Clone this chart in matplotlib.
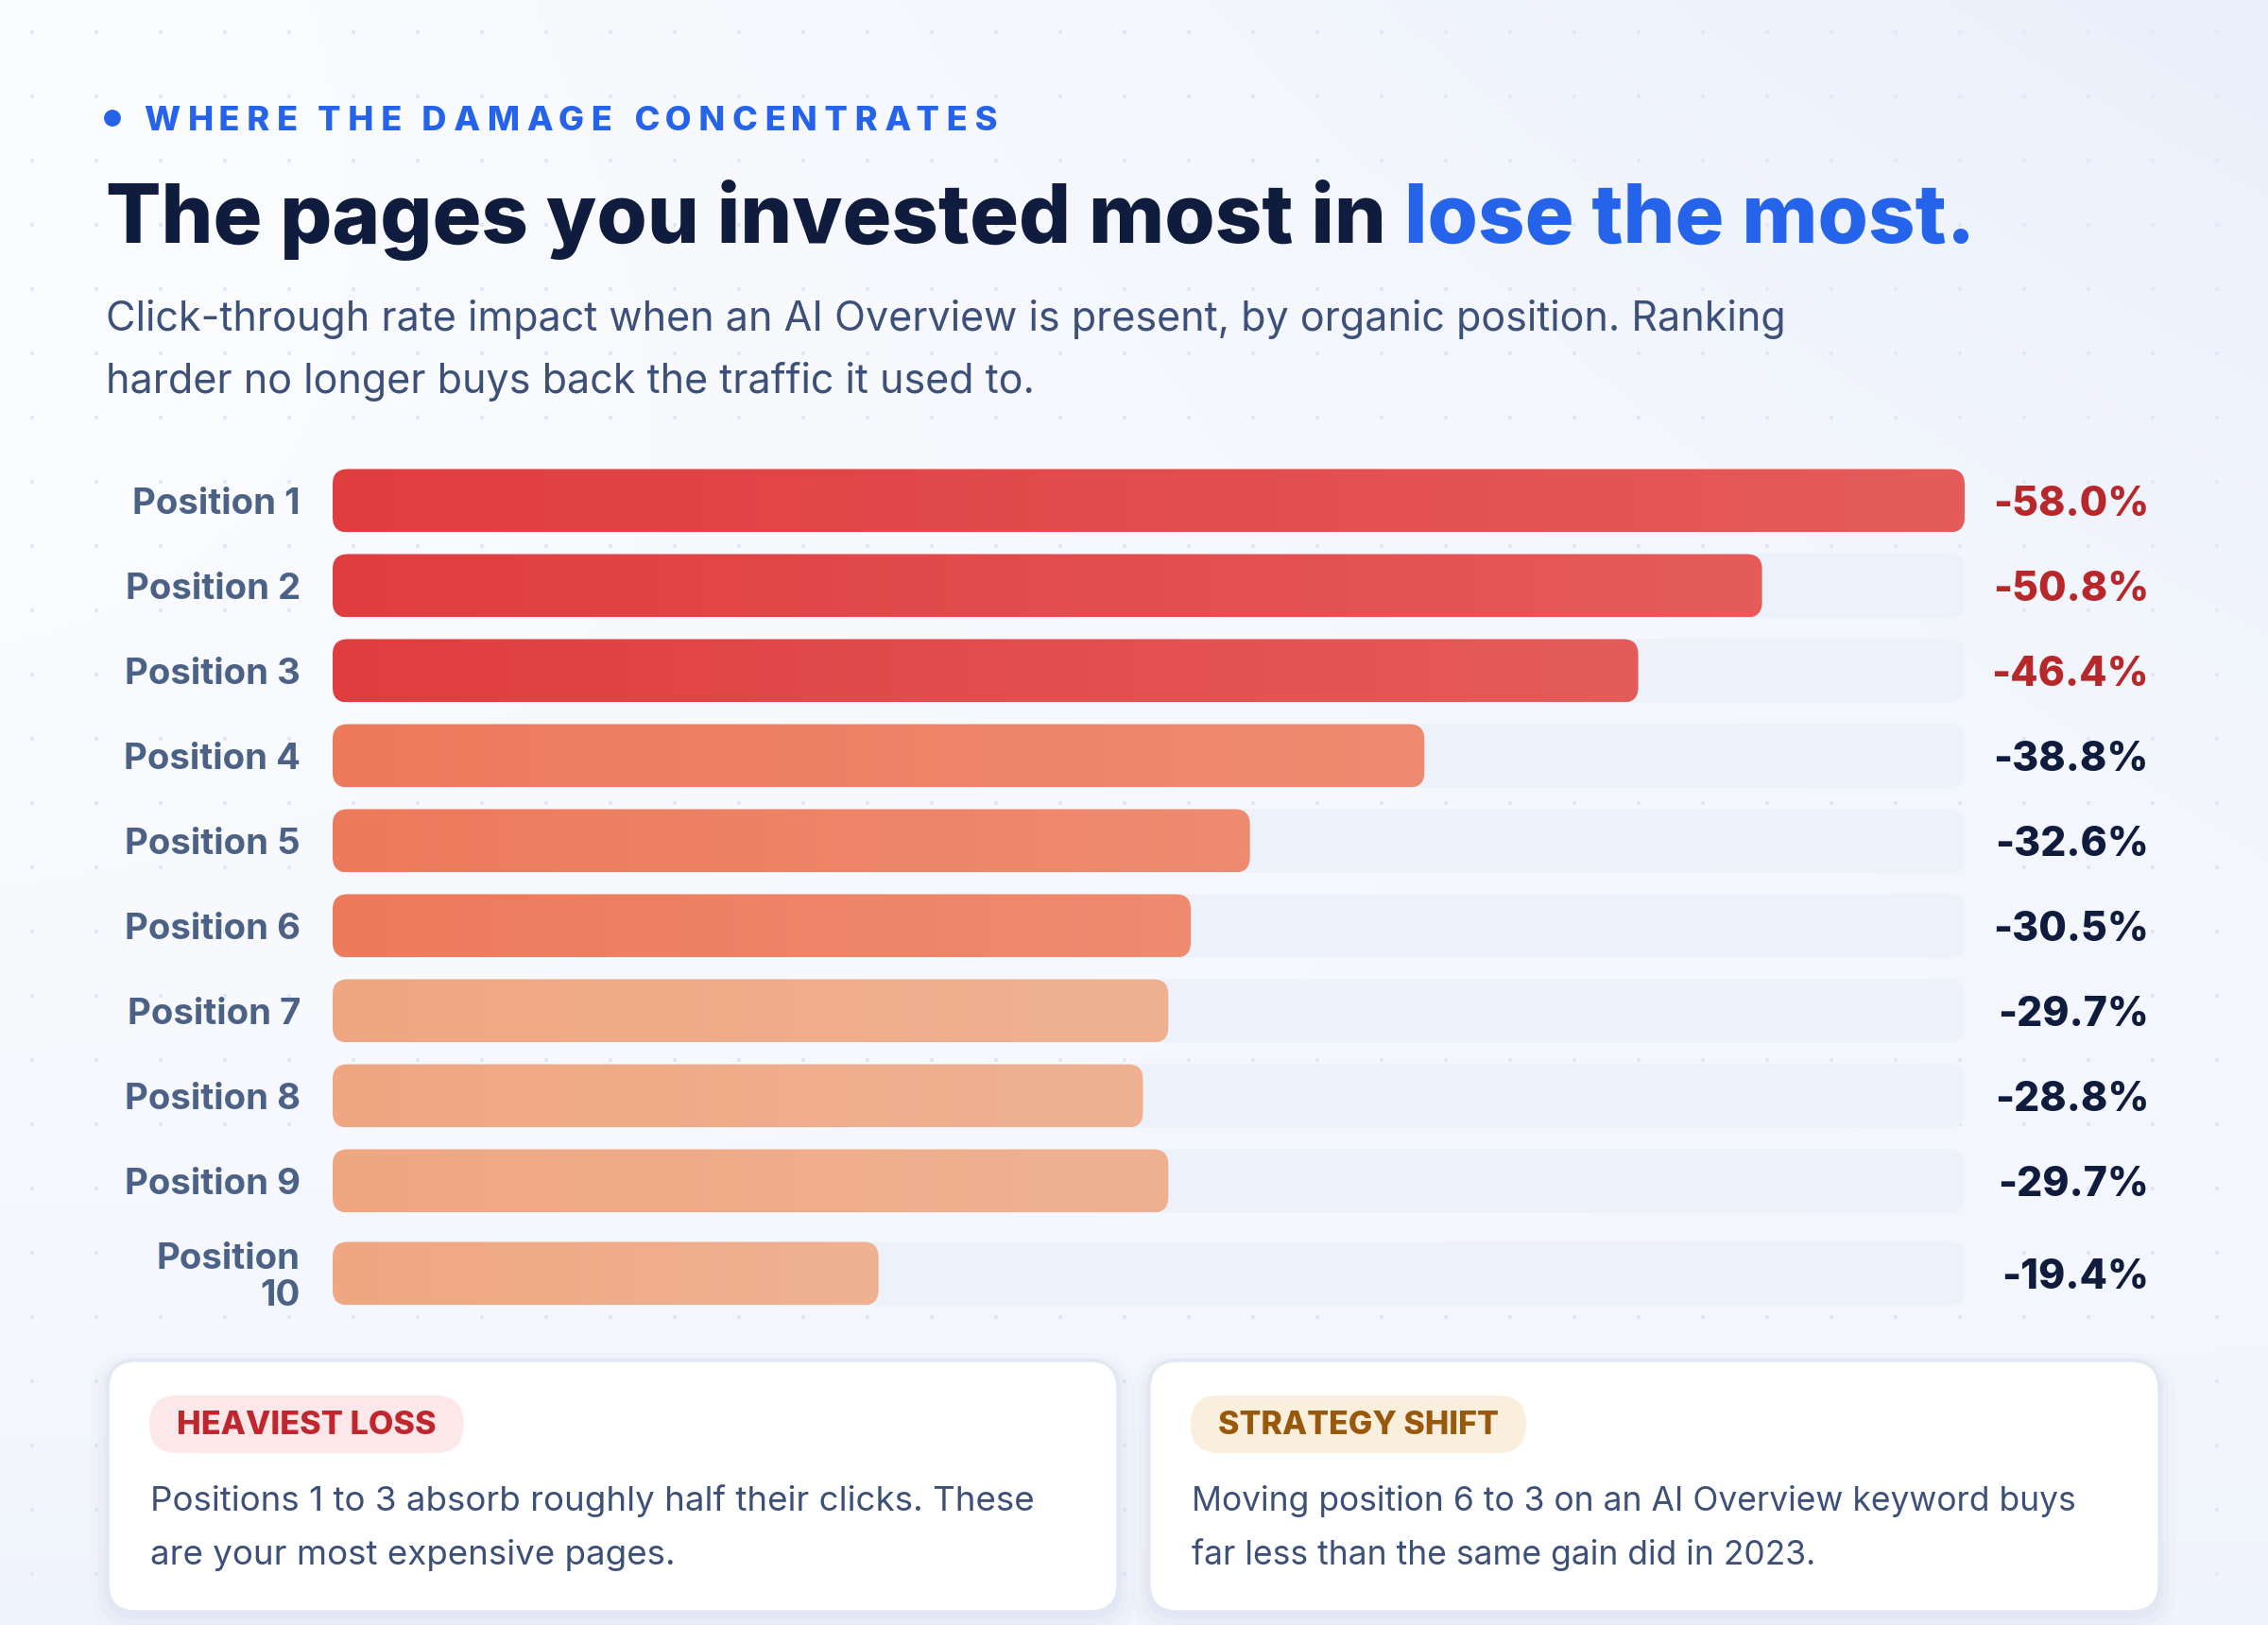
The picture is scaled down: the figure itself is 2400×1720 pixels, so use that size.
import numpy as np
import matplotlib
matplotlib.use("Agg")
import matplotlib.pyplot as plt
from matplotlib.patches import FancyBboxPatch, Circle
from matplotlib.colors import to_rgb
from matplotlib import font_manager as fm

# ---------------- data ----------------
positions = ["Position 1", "Position 2", "Position 3", "Position 4", "Position 5",
             "Position 6", "Position 7", "Position 8", "Position 9", "Position\n10"]
ctr_change = [-58.0, -50.8, -46.4, -38.8, -32.6, -30.5, -29.7, -28.8, -29.7, -19.4]
severity = ["severe", "severe", "severe", "high", "high", "high",
            "moderate", "moderate", "moderate", "moderate"]

eyebrow = "WHERE THE DAMAGE CONCENTRATES"
title_main = "The pages you invested most in"
title_accent = "lose the most."
subtitle_lines = [
    "Click-through rate impact when an AI Overview is present, by organic position. Ranking",
    "harder no longer buys back the traffic it used to.",
]
card_tags = ["HEAVIEST LOSS", "STRATEGY SHIFT"]
card_texts = [
    ["Positions 1 to 3 absorb roughly half their clicks. These", "are your most expensive pages."],
    ["Moving position 6 to 3 on an AI Overview keyword buys", "far less than the same gain did in 2023."],
]

# ---------------- style ----------------
installed = {f.name for f in fm.fontManager.ttflist}
def pick(*names):
    for n in names:
        if n in installed:
            return n
    return "DejaVu Sans"
SANS = pick("Inter", "Roboto", "Lato", "Open Sans")
FAM = [SANS, "DejaVu Sans"]
plt.rcParams["font.family"] = FAM

NAVY = "#0f1c3d"
BLUE = "#2563eb"
SLATE = "#3d5079"
LABEL = "#4c6186"
TRACK = "#edf1f9"
bar_colors = {
    "severe": ("#e03d3f", "#e55c5b"),
    "high": ("#ed7a5b", "#ef8b71"),
    "moderate": ("#efa782", "#f0b292"),
}
value_colors = {"severe": "#b8282b", "high": NAVY, "moderate": NAVY}

W, H = 2400, 1720
fig = plt.figure(figsize=(12, 8.6), dpi=200)
renderer = fig.canvas.get_renderer()

# background layer in pixel coordinates
bg = fig.add_axes([0, 0, 1, 1])
bg.set_xlim(0, W)
bg.set_ylim(H, 0)
bg.axis("off")

gy, gx = np.mgrid[0:1:172j, 0:1:240j]
base = np.array(to_rgb("#fbfcfe"))
blue = np.array(to_rgb("#e8eefb"))
wgt = np.clip(0.95 * gx ** 1.3 * (1 - gy) ** 1.6 + 0.55 * gy ** 2.2, 0, 1)
img = base[None, None, :] * (1 - wgt[..., None]) + blue[None, None, :] * wgt[..., None]
bg.imshow(img, extent=[0, W, H, 0], aspect="auto", zorder=0, interpolation="bilinear")

dx = np.arange(34, W, 68)
dy = np.arange(34, H, 68)
DX, DY = np.meshgrid(dx, dy)
bg.scatter(DX.ravel(), DY.ravel(), s=2.2, marker="s", color="#e2e8f5", linewidths=0, zorder=1)
bg.set_xlim(0, W)
bg.set_ylim(H, 0)


def width_px(t):
    return t.get_window_extent(renderer).width


def fit_text(x, y, s, target, fs, **kw):
    t = bg.text(x, y, s, fontsize=fs, **kw)
    w = width_px(t)
    t.set_fontsize(fs * target / w)
    return t


def spaced_text(x, y, s, target, fs, **kw):
    """Letter-spaced text: hair spaces between glyphs to reach a target width."""
    t = bg.text(x, y, s, fontsize=fs, **kw)
    w0 = width_px(t)
    gaps = len(s) - 1
    t.set_text("\u200a".join(s))
    w1 = width_px(t)
    h = max((w1 - w0) / gaps, 0.1)
    n_total = max(0, int(round((target - w0) / h)))
    out = s[0]
    acc = 0.0
    for i, ch in enumerate(s[1:], start=1):
        want = n_total * i / gaps
        k = int(round(want - acc))
        acc += k
        out += "\u200a" * k + ch
    t.set_text(out)
    return t


# ---------------- header ----------------
bg.add_patch(Circle((119, 125), 7.5, color=BLUE, zorder=3))
spaced_text(153, 138, eyebrow, 903, 13.0, color=BLUE, fontweight="heavy",
            va="baseline", ha="left", zorder=3)

t1 = bg.text(112, 257, title_main, fontsize=34, fontweight="heavy", color=NAVY,
             va="baseline", ha="left", zorder=3)
t2 = bg.text(0, 257, title_accent, fontsize=34, fontweight="heavy", color=BLUE,
             va="baseline", ha="left", zorder=3)
tsp = bg.text(0, 0, "a a", fontsize=34, fontweight="heavy")
tsn = bg.text(0, 0, "aa", fontsize=34, fontweight="heavy")
space_w = width_px(tsp) - width_px(tsn)
tsp.remove(); tsn.remove()
total = width_px(t1) + space_w + width_px(t2)
fs_title = 34 * (2090 - 112) / total
t1.set_fontsize(fs_title); t2.set_fontsize(fs_title)
t2.set_x(112 + width_px(t1) + space_w * fs_title / 34)

fs_sub = None
for i, (line, yb) in enumerate(zip(subtitle_lines, [350, 416])):
    if i == 0:
        t = fit_text(112, yb, line, 1780, 14.5, color=SLATE, va="baseline", ha="left", zorder=3)
        fs_sub = t.get_fontsize()
    else:
        bg.text(112, yb, line, fontsize=fs_sub, color=SLATE, va="baseline", ha="left", zorder=3)

# ---------------- bars ----------------
x0_px, x1_px = 352, 2079
top_px, bot_px = 480, 1400
row_step_px = 90.0
first_row_px = 530
vmax = max(abs(v) for v in ctr_change)
ppx = (x1_px - x0_px) / vmax
ax = fig.add_axes([x0_px / W, 1 - bot_px / H, (x1_px - x0_px) / W, (bot_px - top_px) / H])
ax.patch.set_alpha(0)
ax.axis("off")
ylim = ((bot_px - first_row_px) / row_step_px, (top_px - first_row_px) / row_step_px)
ax.set_xlim(0, vmax)
ax.set_ylim(*ylim)

# row positions: wrapped labels make a slightly taller row
ypos = []
extra = 0.0
for lab in positions:
    if "\n" in lab:
        extra += 8 / row_step_px
    ypos.append(len(ypos) + extra)

bar_h = 67 / row_step_px
r_px = 16
rs = r_px / ppx
m_aspect = ppx / row_step_px
txt_dy = 4.5 / row_step_px   # optical centering of labels

# value-label font size fitted to the reference width of "-58.0%"
probe = bg.text(0, 0, "-58.0%", fontsize=19, fontweight="heavy")
fs_val = 19 * 165 / width_px(probe)
probe.remove()

for lab, v, sev, y in zip(positions, ctr_change, severity, ypos):
    track = FancyBboxPatch((0, y - bar_h / 2), vmax, bar_h,
                           boxstyle=f"round,pad=0,rounding_size={rs}",
                           mutation_aspect=m_aspect, fc=TRACK, ec="none", zorder=1)
    ax.add_patch(track)
    w = abs(v)
    bar = FancyBboxPatch((0, y - bar_h / 2), w, bar_h,
                         boxstyle=f"round,pad=0,rounding_size={rs}",
                         mutation_aspect=m_aspect, fc="none", ec="none", zorder=2)
    ax.add_patch(bar)
    c0, c1 = (np.array(to_rgb(c)) for c in bar_colors[sev])
    g = np.linspace(0, 1, 256)[:, None]
    grad = (c0[None, :] * (1 - g) + c1[None, :] * g)[None, :, :]
    im = ax.imshow(grad, extent=[0, w, y + bar_h / 2, y - bar_h / 2],
                   aspect="auto", zorder=2, interpolation="bilinear")
    im.set_clip_path(bar)
    ax.text((318 - x0_px) / ppx, y + txt_dy, lab, fontsize=13.8, fontweight="bold", color=LABEL,
            ha="right", va="center", multialignment="right", linespacing=1.13,
            clip_on=False, zorder=3)
    ax.text((2274 - x0_px) / ppx, y + txt_dy, f"{v:.1f}%", fontsize=fs_val, fontweight="heavy",
            color=value_colors[sev], ha="right", va="center", clip_on=False, zorder=3)

ax.set_xlim(0, vmax)
ax.set_ylim(*ylim)

# ---------------- cards ----------------
cards = [(114, 1440, 1069, 266), (1216, 1440, 1069, 266)]
tag_styles = [("#fce8e8", "#c0262d"), ("#faefdd", "#98590c")]
tag_widths = [274, 297]
for (cx, cy, cw, chh), tag, (pfc, ptc), tgw, lines in zip(cards, card_tags, tag_styles,
                                                           tag_widths, card_texts):
    for grow, dyy, a in [(18, 10, 0.025), (10, 7, 0.035), (4, 4, 0.05)]:
        bg.add_patch(FancyBboxPatch((cx - grow, cy - grow + dyy), cw + 2 * grow, chh + 2 * grow,
                                    boxstyle=f"round,pad=0,rounding_size={30 + grow}",
                                    fc="#7d93c8", ec="none", alpha=a, zorder=2))
    bg.add_patch(FancyBboxPatch((cx, cy), cw, chh, boxstyle="round,pad=0,rounding_size=30",
                                fc="white", ec="#e1e7f3", lw=1.2, zorder=3))
    px0 = cx + 44
    tt = fit_text(px0 + 29, 1509, tag, tgw, 11.8, color=ptc, fontweight="heavy",
                  ha="left", va="center", zorder=5)
    tw = width_px(tt)
    bg.add_patch(FancyBboxPatch((px0, 1477), tw + 58, 61, boxstyle="round,pad=0,rounding_size=30",
                                fc=pfc, ec="none", zorder=4))
    first = fit_text(px0 + 1, 1599, lines[0], 935, 13.2, color=SLATE, va="baseline",
                     ha="left", zorder=5)
    bg.text(px0 + 1, 1656, lines[1], fontsize=first.get_fontsize(), color=SLATE,
            va="baseline", ha="left", zorder=5)

fig.savefig("out.png", dpi=200)
